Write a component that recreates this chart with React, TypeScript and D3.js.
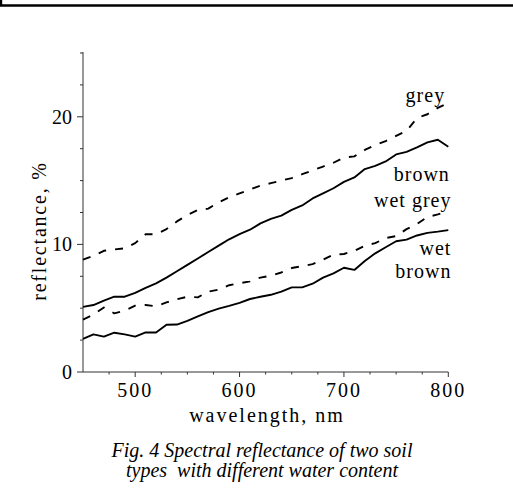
import * as d3 from "d3";

const wavelength = [
  450, 460, 470, 480, 490, 500, 510, 520, 530, 540, 550, 560, 570, 580, 590, 600, 610, 620,
  630, 640, 650, 660, 670, 680, 690, 700, 710, 720, 730, 740, 750, 760, 770, 780, 790, 800,
];

const grey = [
  8.8, 9.1, 9.5, 9.6, 9.7, 10.1, 10.8, 10.8, 11.2, 11.8, 12.3, 12.7, 12.8, 13.3, 13.7, 14.0, 14.3, 14.6,
  14.8, 15.0, 15.2, 15.5, 15.8, 16.1, 16.4, 16.8, 16.9, 17.4, 17.8, 18.1, 18.5, 18.9, 19.9, 20.2, 20.7, 21.1,
];

const brown = [
  5.1, 5.25, 5.6, 5.9, 5.9, 6.2, 6.6, 6.95, 7.4, 7.9, 8.4, 8.9, 9.4, 9.9, 10.4, 10.8, 11.15, 11.65,
  12.0, 12.25, 12.7, 13.05, 13.6, 14.0, 14.4, 14.9, 15.25, 15.9, 16.15, 16.5, 17.05, 17.25, 17.6, 18.0, 18.2, 17.65,
];

const wetGrey = [
  4.1, 4.5, 5.05, 4.6, 4.8, 5.2, 5.25, 5.15, 5.45, 5.7, 5.9, 5.85, 6.3, 6.45, 6.8, 6.95, 7.1, 7.4,
  7.55, 7.8, 8.15, 8.3, 8.45, 8.8, 9.2, 9.25, 9.5, 9.9, 10.1, 10.5, 10.65, 11.2, 11.6, 12.15, 12.35, 12.6,
];

const wetBrown = [
  2.6, 2.95, 2.77, 3.08, 2.95, 2.77, 3.1, 3.1, 3.7, 3.72, 4.0, 4.35, 4.7, 4.97, 5.18, 5.42, 5.72, 5.9,
  6.05, 6.3, 6.63, 6.63, 6.92, 7.4, 7.73, 8.17, 8.0, 8.7, 9.3, 9.78, 10.25, 10.37, 10.7, 10.9, 11.0, 11.12,
];

const xMajor = [500, 600, 700, 800];
const xMinor = [475, 525, 550, 575, 625, 650, 675, 725, 750, 775];
const yMajor = [0, 10, 20];
const yMinor = [2.5, 5, 7.5, 12.5, 15, 17.5, 22.5, 25];

// labels next to the curves (right aligned, in data units)
const labelText = ["grey", "brown", "wet grey", "wet", "brown"];
const labelAtW = [797, 801.5, 803, 803, 803];
const labelAtV = [21.18, 14.97, 12.95, 9.17, 7.34];

export default function App() {
  const width = 513;
  const height = 504;
  const font = "'Liberation Serif', 'Times New Roman', serif";

  const x = d3.scaleLinear().domain([450, 800]).range([83, 448.3]);
  const y = d3.scaleLinear().domain([0, 25]).range([372, 53]);

  const line = d3
    .line<number>()
    .x((_, i) => x(wavelength[i]))
    .y((d) => y(d));

  const series = [
    { values: grey, dash: "8,9" },
    { values: brown, dash: "" },
    { values: wetGrey, dash: "8,9" },
    { values: wetBrown, dash: "" },
  ];

  const axisColor = "#333";

  return (
    <svg
      width={width}
      height={height}
      style={{ position: "absolute", left: 0, top: 0, background: "#fff", fontFamily: font }}
    >
      {/* frame corner from the page above */}
      <path d={`M1,0 V5.5 H${width}`} fill="none" stroke="#000" strokeWidth={2.4} />

      {/* axes */}
      <line x1={x(450)} y1={y(0)} x2={x(800)} y2={y(0)} stroke={axisColor} strokeWidth={1} />
      <line x1={x(450)} y1={y(0)} x2={x(450)} y2={y(25) - 1} stroke={axisColor} strokeWidth={1} />

      {xMajor.map((v) => (
        <g key={"xM" + v}>
          <line x1={x(v)} y1={y(0)} x2={x(v)} y2={y(0) + 5} stroke={axisColor} />
          <text x={x(v)} y={397} textAnchor="middle" fontSize={20} letterSpacing={2}>
            {v}
          </text>
        </g>
      ))}
      {xMinor.map((v) => (
        <line key={"xm" + v} x1={x(v)} y1={y(0)} x2={x(v)} y2={y(0) + 2.5} stroke={axisColor} />
      ))}

      {yMajor.map((v) => (
        <g key={"yM" + v}>
          <line x1={x(450) - 6} y1={y(v)} x2={x(450)} y2={y(v)} stroke={axisColor} />
          <text x={72} y={y(v)} dy="0.35em" textAnchor="end" fontSize={20}>
            {v}
          </text>
        </g>
      ))}
      {yMinor.map((v) => (
        <line key={"ym" + v} x1={x(450) - 3} y1={y(v)} x2={x(450)} y2={y(v)} stroke={axisColor} />
      ))}

      <text
        transform="translate(46,231) rotate(-90)"
        textAnchor="middle"
        fontSize={20}
        letterSpacing={1.8}
      >
        reflectance, %
      </text>

      <text x={267} y={421.5} textAnchor="middle" fontSize={20} letterSpacing={2}>
        wavelength, nm
      </text>

      {/* curves */}
      {series.map((s, i) => (
        <path
          key={i}
          d={line(s.values) ?? ""}
          fill="none"
          stroke="#000"
          strokeWidth={1.9}
          strokeDasharray={s.dash || undefined}
          strokeLinejoin="round"
        />
      ))}

      {labelText.map((t, i) => (
        <text
          key={i}
          x={x(labelAtW[i])}
          y={y(labelAtV[i])}
          textAnchor="end"
          fontSize={20}
          letterSpacing={1}
        >
          {t}
        </text>
      ))}

      {/* caption */}
      <text
        x={262}
        y={456.5}
        textAnchor="middle"
        fontSize={20}
        fontStyle="italic"
        style={{ whiteSpace: "pre" }}
      >
        Fig. 4 Spectral reflectance of two soil
      </text>
      <text
        x={262}
        y={476.5}
        textAnchor="middle"
        fontSize={20}
        fontStyle="italic"
        style={{ whiteSpace: "pre" }}
      >
        types  with different water content
      </text>
    </svg>
  );
}
